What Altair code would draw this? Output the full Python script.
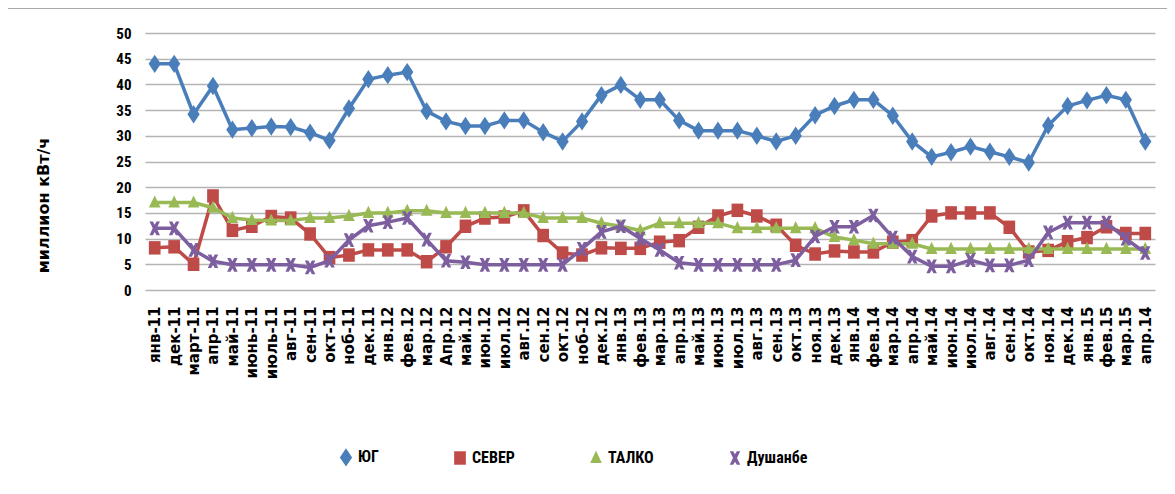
import altair as alt
import pandas as pd

months = ["янв-11", "дек-11", "март-11", "апр-11", "май-11", "июнь-11", "июль-11", "авг-11",
          "сен-11", "окт-11", "ноб-11", "дек.11", "янв.12", "фев.12", "мар.12", "Апр.12",
          "май.12", "июн.12", "июл.12", "авг.12", "сен.12", "окт.12", "ноб-12", "дек.12",
          "янв.13", "фев.13", "мар.13", "апр.13", "май.13", "июн.13", "июл.13", "авг.13",
          "сен.13", "окт.13", "ноя.13", "дек.13", "янв.14", "фев.14", "мар.14", "апр.14",
          "май.14", "июн.14", "июл.14", "авг.14", "сен.14", "окт.14", "ноя.14", "дек.14",
          "янв.15", "фев.15", "мар.15", "апр.14 "]

yug = [44, 44, 34.2, 39.7, 31.2, 31.5, 31.8, 31.7, 30.6, 29.1, 35.3, 41, 41.8, 42.4, 34.8, 32.8,
       31.9, 31.9, 33, 33, 30.7, 28.9, 32.8, 37.9, 39.9, 37, 37, 33, 31, 31, 31, 30,
       28.9, 30, 34, 35.8, 37, 37, 33.9, 28.9, 25.9, 26.8, 27.9, 26.9, 25.9, 24.8, 32, 35.8,
       36.9, 37.9, 37, 28.9]
sever = [8.2, 8.4, 5, 18.3, 11.6, 12.4, 14.3, 14, 10.9, 6.3, 6.8, 7.8, 7.8, 7.8, 5.5, 8.4,
         12.4, 14, 14.2, 15.4, 10.6, 7.2, 6.8, 8.2, 8.1, 8.1, 9.3, 9.6, 12.2, 14.4, 15.5, 14.4,
         12.6, 8.7, 7, 7.6, 7.4, 7.4, 9.3, 9.6, 14.4, 15, 15, 15, 12.2, 7.4, 7.7, 9.4,
         10.2, 12.3, 11, 11]
talko = [17, 17, 17, 16, 14, 13.6, 13.5, 13.5, 14, 14, 14.4, 15, 15, 15.4, 15.4, 15,
         15, 15, 15, 15, 14, 14, 14, 13, 12.4, 11.6, 13, 13, 13, 13, 12, 12,
         12, 12, 12, 10.3, 9.7, 9, 9, 9, 8, 8, 8, 8, 8, 8, 8, 8,
         8, 8, 8, 8]
dushanbe = [12, 12, 7.8, 5.6, 4.9, 4.9, 4.9, 4.9, 4.4, 5.7, 9.7, 12.5, 13.2, 14, 9.8, 5.7,
            5.4, 4.9, 4.9, 4.9, 4.9, 4.9, 8, 11.3, 12.4, 10, 7.8, 5.3, 4.9, 4.9, 4.9, 4.9,
            4.9, 5.8, 10.4, 12.3, 12.3, 14.5, 10.2, 6.5, 4.6, 4.6, 5.8, 4.8, 4.8, 5.8, 11.2, 13.1,
            13.1, 13.1, 10, 7.2]

series = ["ЮГ", "СЕВЕР", "ТАЛКО", "Душанбе"]
colors = ["#4A7EBB", "#BE4B48", "#98B954", "#7D5FA0"]
diamond_path = "M0,-1.5L1,0L0,1.5L-1,0Z"
square_path = "M-1,-1.15L1,-1.15L1,1.15L-1,1.15Z"
triangle_path = "M0,-1.3L1.05,0.9L-1.05,0.9Z"
x_path = ("M-1,-1.3L-0.35,-1.3L0,-0.7L0.35,-1.3L1,-1.3L0.38,0L1,1.3L0.35,1.3"
          "L0,0.7L-0.35,1.3L-1,1.3L-0.38,0Z")
shapes = [diamond_path, square_path, triangle_path, x_path]
sizes = [150, 110, 144, 150]

rows = []
for name, vals in zip(series, [yug, sever, talko, dushanbe]):
    for i, (m, v) in enumerate(zip(months, vals)):
        rows.append({"month": m, "idx": i, "series": name, "value": v})
df = pd.DataFrame(rows)

narrow = "Liberation Sans Narrow, Roboto Condensed, Liberation Sans, Arial"

x_enc = alt.X("month:N", sort=months, scale=alt.Scale(padding=0.5),
              axis=alt.Axis(title=None, labelAngle=-90, labelFont="DejaVu Sans",
                            labelFontWeight="bold", labelFontSize=15, labelColor="#000000",
                            labelPadding=16, ticks=False, domain=False, grid=False,
                            labelAlign="right", labelBaseline="middle"))
y_enc = alt.Y("value:Q", scale=alt.Scale(domain=[0, 50], nice=False),
              axis=alt.Axis(values=list(range(0, 51, 5)), title="миллион кВт/ч",
                            titleFont="DejaVu Sans", titleFontWeight="bold", titleFontSize=16,
                            titleColor="#000000", titleAngle=-90, titleX=-102, titleY=172,
                            titleAlign="center", titleBaseline="middle",
                            labelFont=narrow, labelFontWeight="bold", labelFontSize=15,
                            labelColor="#000000", labelPadding=14, ticks=False, domain=False,
                            grid=True, gridColor="#B4B4B4", gridWidth=1.4))

legend = alt.Legend(title=None, orient="none", direction="horizontal",
                    legendX=193, legendY=416, columnPadding=73, padding=0,
                    labelFont=narrow, labelFontWeight="bold",
                    labelFontSize=16, labelColor="#000000", labelOffset=4)

color_enc = alt.Color("series:N", scale=alt.Scale(domain=series, range=colors), legend=legend)
shape_enc = alt.Shape("series:N", scale=alt.Scale(domain=series, range=shapes), legend=legend)
size_enc = alt.Size("series:N", scale=alt.Scale(domain=series, range=sizes), legend=legend)

base = alt.Chart(df)
layers = []
for name, col in zip(series, colors):
    sub = base.transform_filter(alt.datum.series == name)
    layers.append(sub.mark_line(strokeWidth=3.5, color=col).encode(x=x_enc, y=y_enc))
    layers.append(sub.mark_point(filled=True, opacity=1, strokeWidth=0).encode(
        x=x_enc, y=y_enc, color=color_enc, shape=shape_enc, size=size_enc))

frame_top = alt.Chart(pd.DataFrame({"a": [0]})).mark_rule(color="#8C8C8C", strokeWidth=1.5).encode(
    x=alt.value(-138), x2=alt.value(1030), y=alt.value(-25))
frame_left = alt.Chart(pd.DataFrame({"a": [0]})).mark_rule(color="#8C8C8C", strokeWidth=1.5).encode(
    x=alt.value(-138), y=alt.value(-25), y2=alt.value(460))

chart = alt.layer(frame_top, frame_left, *layers).properties(
    width=1010, height=257,
    autosize=alt.AutoSizeParams(type="none"),
    padding={"left": 137, "top": 25, "right": 12, "bottom": 196},
    background="white",
).configure_view(stroke=None)

chart.save("out.html", embed_options={"renderer": "svg", "actions": False})
